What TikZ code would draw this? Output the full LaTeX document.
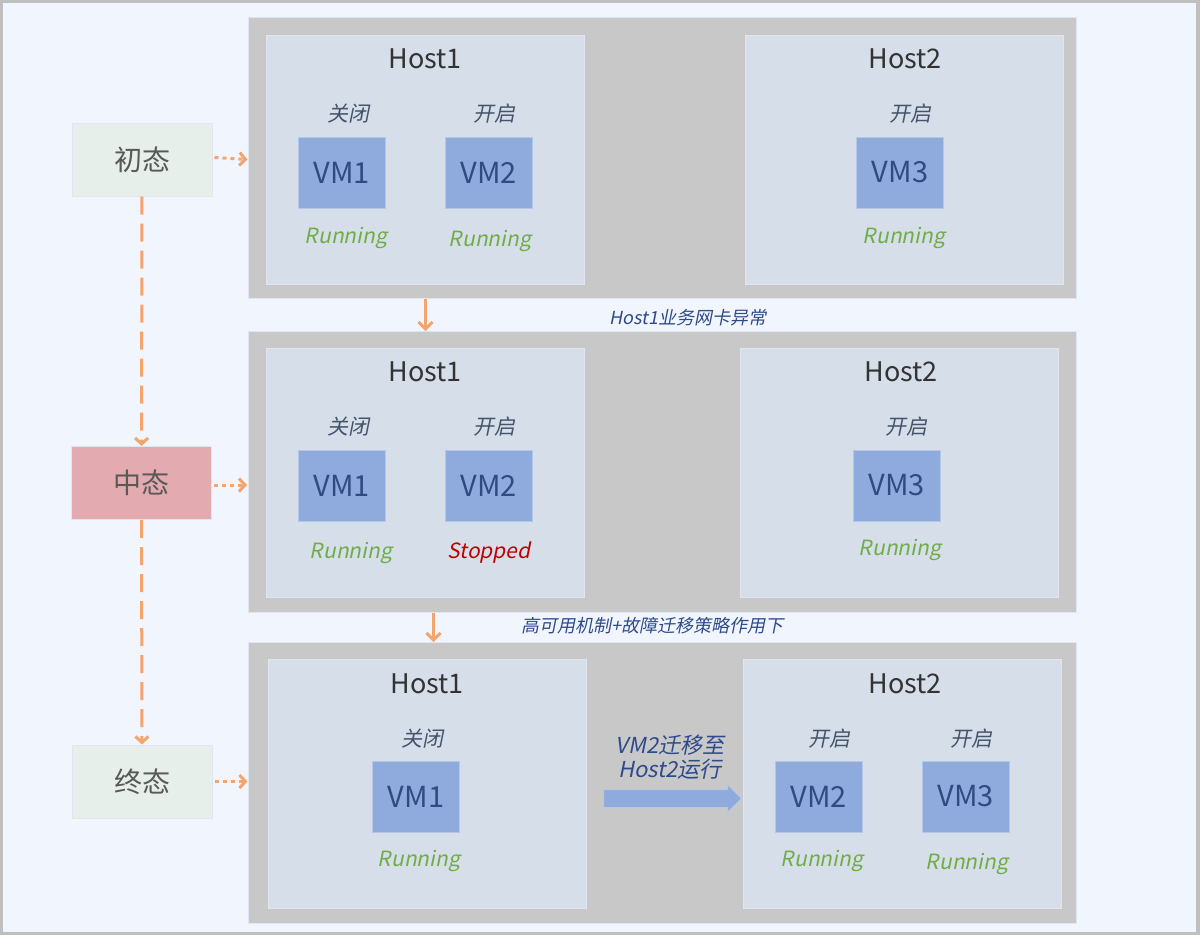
\documentclass[tikz,border=0pt]{standalone}
\usepackage{fontspec}
\setmainfont{Noto Sans CJK SC}[AutoFakeSlant=0.2]
\usetikzlibrary{arrows.meta,shapes.arrows}
\definecolor{bgc}{HTML}{F0F5FE}
\definecolor{framec}{HTML}{BFBFBF}
\definecolor{panelc}{HTML}{C8C8C9}
\definecolor{hostc}{HTML}{D6DEEA}
\definecolor{hostline}{HTML}{DFE6F1}
\definecolor{vmc}{HTML}{8FAADC}
\definecolor{vmline}{HTML}{B4C7E7}
\definecolor{vmtext}{HTML}{2F4B80}
\definecolor{tagc}{HTML}{44546A}
\definecolor{runc}{HTML}{70AD47}
\definecolor{stopc}{HTML}{C00000}
\definecolor{orng}{HTML}{F4A46D}
\definecolor{initc}{HTML}{E6EFEA}
\definecolor{midc}{HTML}{E3AAB0}
\definecolor{statetext}{HTML}{595959}
\definecolor{capc}{HTML}{2F4A8A}

\begin{document}
\begin{tikzpicture}[x=1pt,y=-1pt,
  panel/.style={fill=panelc,draw=hostline,line width=1pt,minimum width=828,minimum height=281,inner sep=0},
  hostbox/.style={fill=hostc,draw=hostline,line width=1pt,minimum width=318,minimum height=249,inner sep=0},
  vm/.style={fill=vmc,draw=vmline,line width=1pt,minimum width=87,minimum height=71,inner sep=0,
    text=vmtext,font=\fontsize{29}{32}\selectfont},
  host/.style={font=\fontsize{27}{30}\selectfont,text=black!80},
  tag/.style={font=\fontsize{21}{24}\selectfont\itshape,text=tagc},
  run/.style={font=\fontsize{21}{24}\selectfont\itshape,text=runc},
  stop/.style={font=\fontsize{21}{24}\selectfont\itshape,text=stopc},
  captext/.style={font=\fontsize{18}{21}\selectfont\itshape,text=capc},
  state/.style={draw=hostline,line width=1pt,minimum width=140,minimum height=73,inner sep=0,
    text=statetext,font=\fontsize{28}{30}\selectfont},
  dotarr/.style={orng,line width=3pt,dash pattern=on 4pt off 4pt,-{Straight Barb[length=6pt,width=13pt]}},
  dasharr/.style={orng,line width=3pt,dash pattern=on 18pt off 9pt,-{Straight Barb[length=6pt,width=13pt]}},
  downarr/.style={orng,line width=3pt,-{Straight Barb[length=7pt,width=14pt]}}]
  \useasboundingbox (0,0) rectangle (1200,935);
  \fill[framec] (0,0) rectangle (1200,935);
  \fill[bgc] (3,3) rectangle (1196,932);

  % panels
  \node[panel] (p1) at (662,157.5) {};
  \node[panel] (p2) at (662,472) {};
  \node[panel] (p3) at (662,783) {};

  % first state
  \node[hostbox] (h11) at (425.5,160) {};
  \node[hostbox] (h12) at (904.5,160) {};
  \node[host] (t11) at (425,59) {Host1};
  \node[host] (t12) at (905,59) {Host2};
  \node[vm] (v11) at (341.5,172.5) {VM1};
  \node[vm] (v12) at (488.5,172.5) {VM2};
  \node[vm] (v13) at (900,172.5) {VM3};
  \node[tag] at (348,114) {关闭};
  \node[tag] at (494,114) {开启};
  \node[tag] at (910,114) {开启};
  \node[run] at (346,238) {Running};
  \node[run] at (490,241) {Running};
  \node[run] at (904,238) {Running};

  % second state
  \node[hostbox] (h21) at (425.5,473) {};
  \node[hostbox] (h22) at (899.5,473) {};
  \node[host] (t21) at (425,372) {Host1};
  \node[host] (t22) at (901,372) {Host2};
  \node[vm] (v21) at (341.5,485.5) {VM1};
  \node[vm] (v22) at (488.5,485.5) {VM2};
  \node[vm] (v23) at (896.5,485.5) {VM3};
  \node[tag] at (348,427) {关闭};
  \node[tag] at (494,427) {开启};
  \node[tag] at (906,427) {开启};
  \node[run] at (351,553) {Running};
  \node[stop] at (489,553) {Stopped};
  \node[run] at (900,550) {Running};

  % final state
  \node[hostbox] (h31) at (427,783.5) {};
  \node[hostbox] (h32) at (902,783.5) {};
  \node[host] (t31) at (427,684) {Host1};
  \node[host] (t32) at (905,684) {Host2};
  \node[vm] (v31) at (416,796.5) {VM1};
  \node[vm] (v32) at (818.5,796.5) {VM2};
  \node[vm] (v33) at (965.5,796.5) {VM3};
  \node[tag] at (422,739) {关闭};
  \node[tag] at (829,739) {开启};
  \node[tag] at (971,739) {开启};
  \node[run] at (419,861) {Running};
  \node[run] at (822,861) {Running};
  \node[run] at (967,864) {Running};
  \node[single arrow,fill=vmc,draw=vmline,line width=1pt,minimum height=138,
    single arrow head extend=5,inner xsep=0,inner ysep=8.5] (mv) at (668,798.5) {};
  \node[captext,font=\fontsize{22}{24}\selectfont\itshape,align=center] at (670,757) {VM2迁移至\\Host2运行};

  % states
  \node[state,fill=initc] (s1) at (142,159.5) {初态};
  \node[state,fill=midc] (s2) at (141.5,483) {中态};
  \node[state,fill=initc] (s3) at (142,781.5) {终态};

  \draw[dasharr] (s1) -- (s2);
  \draw[dasharr] (s2) -- (s3);
  \draw[dotarr] (s1.east) ++(2,-2) -- (s1.east -| p1.west);
  \draw[dotarr] (s2.east) ++(2,2) -- ++(33,0);
  \draw[dotarr] (s3.east) ++(2,0) -- (s3.east -| p3.west);

  \draw[downarr] (p1.south -| h11) -- (p2.north -| h11);
  \draw[downarr] ([xshift=8]p2.south -| h21) -- ([xshift=8]p3.north -| h21);
  \node[captext] at (688,318) {Host1业务网卡异常};
  \node[captext] at (652,626) {高可用机制+故障迁移策略作用下};
\end{tikzpicture}
\end{document}
